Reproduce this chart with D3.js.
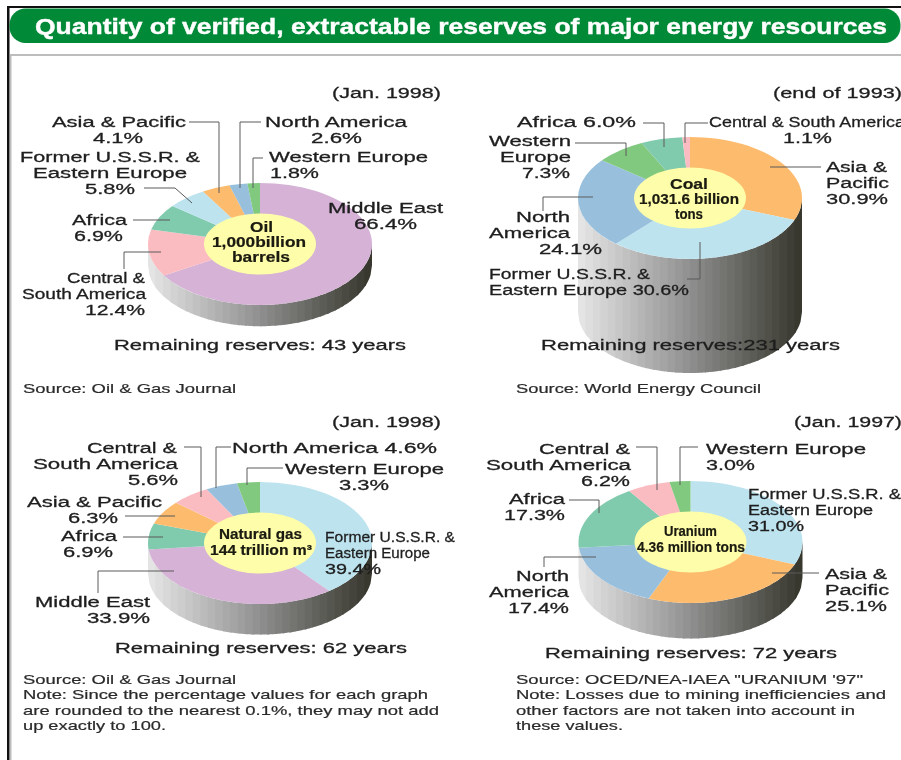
<!DOCTYPE html>
<html>
<head>
<meta charset="utf-8">
<script src="https://d3js.org/d3.v7.min.js"></script>
<style>
  html, body { margin: 0; padding: 0; background: #fff; overflow: hidden; }
  svg { display: block; }
  text { font-family: "Liberation Sans", Arial, sans-serif; }
</style>
</head>
<body>
<script>
// values, clockwise from 12 o'clock
var oilRegions = ["Middle East", "Central & South America", "Africa", "Former U.S.S.R. & Eastern Europe", "Asia & Pacific", "North America", "Western Europe"];
var oilShares = [66.4, 12.4, 6.9, 5.8, 4.1, 2.6, 1.8];

var coalRegions = ["Asia & Pacific", "Former U.S.S.R. & Eastern Europe", "North America", "Western Europe", "Africa", "Central & South America"];
var coalShares = [30.9, 30.6, 24.1, 7.3, 6.0, 1.1];

var gasRegions = ["Former U.S.S.R. & Eastern Europe", "Middle East", "Africa", "Asia & Pacific", "Central & South America", "North America", "Western Europe"];
var gasShares = [39.4, 33.9, 6.9, 6.3, 5.6, 4.6, 3.3];

var uraniumRegions = ["Former U.S.S.R. & Eastern Europe", "Asia & Pacific", "North America", "Africa", "Central & South America", "Western Europe"];
var uraniumShares = [31.0, 25.1, 17.4, 17.3, 6.2, 3.0];

var remainingYears = { oil: 43, coal: 231, gas: 62, uranium: 72 };

var regionColors = d3.scaleOrdinal()
    .domain(["Middle East", "Central & South America", "Africa", "Former U.S.S.R. & Eastern Europe", "Asia & Pacific", "North America", "Western Europe"])
    .range(["#d5b2d6", "#fbbcc1", "#80caae", "#bde3ef", "#fdbb6d", "#98c0dd", "#80c97f"]);

// cylinder height follows the remaining years
var depthScale = d3.scaleLinear().domain([0, 231]).range([0, 114]);
var wallColor = d3.scaleLinear().domain([0, 0.5, 1]).range(["#e4e4e4", "#8f8f8f", "#38382f"]);

var svgWidth = 901;
var svgHeight = 760;
var rx = 112;
var ry = 61;
var holeRx = 56;
var holeRy = 30.5;

var svg = d3.select("body")
    .append("svg")
    .attr("width", svgWidth)
    .attr("height", svgHeight)
    .style("filter", "blur(0.45px)");

// frame and header
svg.append("rect").attr("x", 7).attr("y", 6).attr("width", 894).attr("height", 2).attr("fill", "#111");
svg.append("rect").attr("x", 7).attr("y", 6).attr("width", 2.5).attr("height", 754).attr("fill", "#111");
svg.append("rect").attr("x", 10).attr("y", 54).attr("width", 891).attr("height", 2).attr("fill", "#bdbdbd");
svg.append("rect").attr("x", 10).attr("y", 54).attr("width", 1.5).attr("height", 706).attr("fill", "#bdbdbd");
svg.append("rect").attr("x", 9.5).attr("y", 8.5).attr("width", 891).attr("height", 34.5).attr("rx", 16).attr("fill", "#008a38");
svg.append("text")
    .attr("x", 35).attr("y", 33.5)
    .attr("textLength", 852).attr("lengthAdjust", "spacingAndGlyphs")
    .attr("font-size", 22).attr("font-weight", "bold")
    .attr("stroke", "#fff").attr("stroke-width", 0.4)
    .style("fill", "#fff")
    .text("Quantity of verified, extractable reserves of major energy resources");

// [text, x0, x1, baseline]
function drawLines(lines, opts) {
    svg.append("g").selectAll("text")
        .data(lines)
        .join("text")
        .attr("x", d => d[1])
        .attr("y", d => d[3])
        .attr("textLength", d => d[2] - d[1])
        .attr("lengthAdjust", "spacingAndGlyphs")
        .attr("font-size", opts.size)
        .attr("font-weight", opts.weight || "normal")
        .attr("stroke", opts.fill)
        .attr("stroke-width", opts.stroke)
        .style("fill", opts.fill)
        .text(d => d[0]);
}

function drawPie(cx, cy, regions, shares, years) {
    var depth = depthScale(years);
    var g = svg.append("g").attr("transform", "translate(" + cx + "," + cy + ")");

    // side wall in flat bands, light to dark
    var bands = d3.range(30);
    var bandWidth = 2 * rx / bands.length;
    var rim = x => ry * Math.sqrt(Math.max(0, 1 - x * x / (rx * rx)));
    var wall = d3.area()
        .x(d => d)
        .y0(d => rim(d))
        .y1(d => depth + rim(d));
    g.selectAll(".wall")
        .data(bands)
        .join("path")
        .attr("class", "wall")
        .attr("fill", d => wallColor(d / (bands.length - 1)))
        .attr("d", d => wall(d3.range(0, 7).map(k => Math.min(rx, -rx + (d + k / 5) * bandWidth))));

    // top face: round arcs squashed into an ellipse
    var pie = d3.pie().sort(null).value(d => d.share);
    var arc = d3.arc().innerRadius(0).outerRadius(rx);
    var rows = regions.map((r, i) => ({ region: r, share: shares[i] }));
    g.append("g")
        .attr("transform", "scale(1," + (ry / rx) + ")")
        .selectAll("path")
        .data(pie(rows))
        .join("path")
        .attr("fill", d => regionColors(d.data.region))
        .attr("d", arc);

    g.append("ellipse").attr("rx", holeRx).attr("ry", holeRy).attr("fill", "#fefdaa");
}

function drawLeaders(leaders) {
    var line = d3.line();
    svg.append("g").selectAll("path")
        .data(leaders)
        .join("path")
        .attr("fill", "none")
        .attr("stroke", "#5a5a5a")
        .attr("stroke-width", 1)
        .attr("d", line);
}

function pct(v) {
    return v.toFixed(1) + "%";
}

drawPie(260, 244, oilRegions, oilShares, remainingYears.oil);
drawPie(690, 198, coalRegions, coalShares, remainingYears.coal);
drawPie(260, 543, gasRegions, gasShares, remainingYears.gas);
drawPie(690.5, 542, uraniumRegions, uraniumShares, remainingYears.uranium);

drawLeaders([
    [[189, 122], [219, 122], [219, 193]],
    [[261, 122], [240, 122], [240, 188]],
    [[263, 158], [253, 158], [253, 188]],
    [[144, 188], [175, 188], [192, 203]],
    [[133, 220], [170, 220]],
    [[124, 269], [124, 252], [161, 252]],

    [[643, 123], [664, 123], [664, 147]],
    [[708, 123], [685, 123], [685, 143]],
    [[575, 143], [626, 143], [626, 156]],
    [[543, 211], [543, 197], [593, 197]],
    [[770, 167], [821, 167]],
    [[700, 242], [700, 279], [687, 279]],

    [[184, 447], [201, 447], [201, 497]],
    [[231, 447], [216, 447], [216, 488]],
    [[283, 468], [247, 468], [247, 485]],
    [[125, 516], [175, 516]],
    [[123, 537], [163, 537]],
    [[98, 593], [98, 571], [174, 571]],

    [[636, 447], [657, 447], [657, 490]],
    [[698, 447], [680, 447], [680, 485]],
    [[569, 500], [599, 500], [599, 513]],
    [[544, 567], [544, 557], [596, 557]],
    [[772, 573], [819, 573]]
]);

// region labels
drawLines([
    ["(Jan. 1998)", 332, 441, 98],
    ["Asia & Pacific", 52, 186, 127],
    [pct(oilShares[4]), 93, 143, 143],
    ["North America", 265, 407, 127],
    [pct(oilShares[5]), 311, 362, 143],
    ["Former U.S.S.R. &", 20, 200, 162],
    ["Eastern Europe", 33, 187, 178],
    [pct(oilShares[3]), 85, 135, 194],
    ["Western Europe", 269, 428, 162],
    [pct(oilShares[6]), 270, 319, 178],
    ["Middle East", 328, 443, 213],
    [pct(oilShares[0]), 354, 417, 229],
    ["Africa", 72, 127, 225],
    [pct(oilShares[2]), 74, 123, 241],
    ["Central &", 67, 145, 283],
    ["South America", 22, 146, 299],
    [pct(oilShares[1]), 85, 145, 315],
    ["Remaining reserves: " + remainingYears.oil + " years", 114, 406, 350],

    ["(end of 1993)", 773, 902, 98],
    ["Africa  " + pct(coalShares[4]), 517, 636, 127],
    ["Central & South America", 709, 905, 127],
    [pct(coalShares[5]), 783, 832, 143],
    ["Western", 489, 571, 146],
    ["Europe", 500, 571, 162],
    [pct(coalShares[3]), 522, 570, 178],
    ["North", 516, 570, 222],
    ["America", 489, 570, 238],
    [pct(coalShares[2]), 539, 602, 254],
    ["Asia &", 826, 887, 172],
    ["Pacific", 826, 889, 188],
    [pct(coalShares[0]), 826, 888, 204],
    ["Former U.S.S.R. &", 489, 650, 279],
    ["Eastern Europe  " + pct(coalShares[1]), 489, 689, 295],
    ["Remaining reserves:" + remainingYears.coal + " years", 541, 840, 350],

    ["(Jan. 1998)", 332, 441, 427],
    ["Central &", 87, 177, 453],
    ["South America", 33, 178, 469],
    [pct(gasShares[4]), 128, 178, 485],
    ["North America  " + pct(gasShares[5]), 232, 437, 453],
    ["Western Europe", 285, 444, 474],
    [pct(gasShares[6]), 339, 389, 490],
    ["Asia & Pacific", 27, 162, 507],
    [pct(gasShares[3]), 68, 118, 523],
    ["Africa", 61, 117, 541],
    [pct(gasShares[2]), 63, 113, 557],
    ["Middle East", 35, 150, 607],
    [pct(gasShares[1]), 87, 150, 623],
    ["Former U.S.S.R. &", 325, 455, 542],
    ["Eastern Europe", 325, 430, 558],
    [pct(gasShares[0]), 325, 381, 574],
    ["Remaining reserves: " + remainingYears.gas + " years", 115, 407, 653],

    ["(Jan. 1997)", 794, 902, 427],
    ["Central &", 539, 630, 454],
    ["South America", 486, 631, 470],
    [pct(uraniumShares[4]), 581, 630, 486],
    ["Western Europe", 706, 866, 454],
    [pct(uraniumShares[5]), 706, 755, 470],
    ["Former U.S.S.R. &", 748, 901, 499],
    ["Eastern Europe", 748, 873, 515],
    [pct(uraniumShares[0]), 748, 804, 531],
    ["Africa", 509, 565, 504],
    [pct(uraniumShares[3]), 504, 565, 520],
    ["North", 516, 569, 581],
    ["America", 489, 569, 597],
    [pct(uraniumShares[2]), 508, 569, 613],
    ["Asia &", 825, 887, 579],
    ["Pacific", 825, 889, 595],
    [pct(uraniumShares[1]), 825, 887, 611],
    ["Remaining reserves: " + remainingYears.uranium + " years", 545, 837, 658]
], { size: 15.5, fill: "#1e1e1e", stroke: 0.3 });

// sources and notes
drawLines([
    ["Source: Oil & Gas Journal", 23, 236, 393],
    ["Source: World Energy Council", 516, 761, 393],
    ["Source: Oil & Gas Journal", 23, 236, 684],
    ["Note: Since the percentage values for each graph", 23, 428, 699],
    ["are rounded to the nearest 0.1%, they may not add", 23, 439, 715],
    ["up exactly to 100.", 23, 166, 730],
    ["Source: OCED/NEA-IAEA \"URANIUM '97\"", 516, 863, 684],
    ["Note: Losses due to mining inefficiencies and", 516, 886, 699],
    ["other factors are not taken into account in", 516, 855, 715],
    ["these values.", 516, 623, 730]
], { size: 13, fill: "#2a2a2a", stroke: 0.2 });

// centre labels
drawLines([
    ["Oil", 250, 273, 232],
    ["1,000billion", 212, 306, 247],
    ["barrels", 232, 290, 262],
    ["Coal", 670, 708, 189],
    ["1,031.6 billion", 639, 739, 204],
    ["tons", 675, 703, 219],
    ["Natural gas", 219, 302, 539],
    ["144 trillion m³", 210, 312, 555],
    ["Uranium", 664, 717, 536],
    ["4.36 million tons", 637, 745, 552]
], { size: 14, weight: "bold", fill: "#1a1a10", stroke: 0.2 });
</script>
</body>
</html>
